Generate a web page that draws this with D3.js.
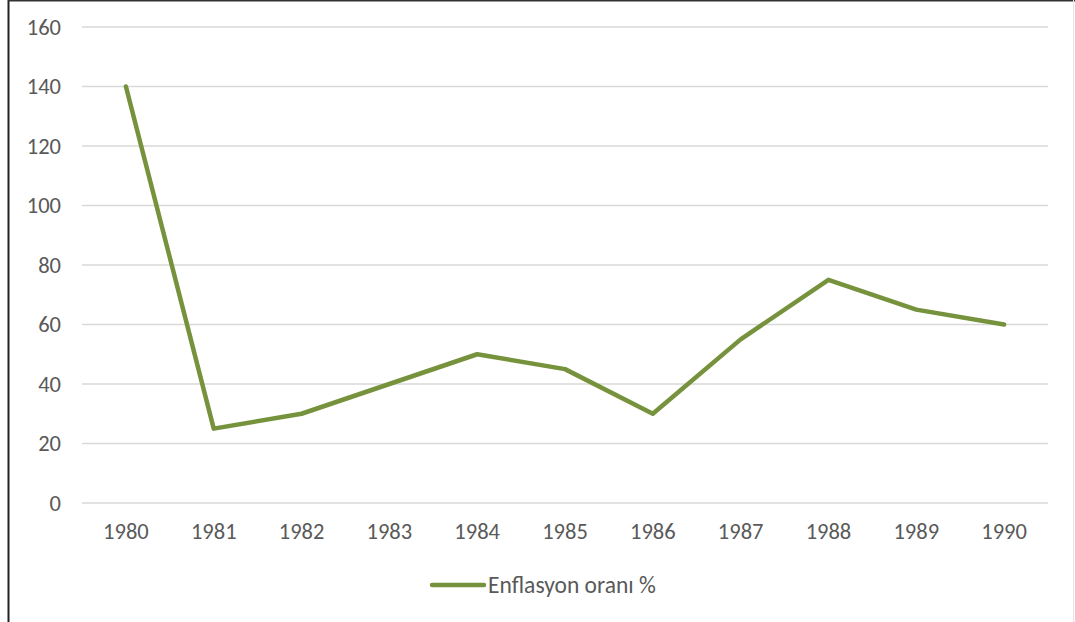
<!DOCTYPE html>
<html>
<head>
<meta charset="utf-8">
<script src="https://cdn.jsdelivr.net/npm/d3@7"></script>
<style>
  body { margin: 0; background: #fff; }
  svg { display: block; }
  text { font-family: Carlito, Calibri, "Liberation Sans", sans-serif; fill: #595959; }
</style>
</head>
<body>
<div id="chart"></div>
<script>
// data
var years = ['1980', '1981', '1982', '1983', '1984', '1985', '1986', '1987', '1988', '1989', '1990'];
var inflation = [140, 25, 30, 40, 50, 45, 30, 55, 75, 65, 60];
var yTicks = [0, 20, 40, 60, 80, 100, 120, 140, 160];
var seriesName = 'Enflasyon oranı %';

var W = 1075, H = 622;
var lineColor = '#76923c';
var fontSize = '22.5px';
var fontFam = 'Carlito, Calibri, "Liberation Sans", sans-serif';

var svg = d3.select('#chart').append('svg')
  .attr('width', W)
  .attr('height', H);

// frame
svg.append('line').attr('x1', 8.5).attr('y1', 0).attr('x2', 8.5).attr('y2', H)
  .attr('stroke', '#222').attr('stroke-width', 2);
svg.append('line').attr('x1', 8).attr('y1', 0.5).attr('x2', W).attr('y2', 0.5)
  .attr('stroke', '#333').attr('stroke-width', 2);
svg.append('line').attr('x1', 1073.5).attr('y1', 0).attr('x2', 1073.5).attr('y2', H)
  .attr('stroke', '#e6e6e6').attr('stroke-width', 1);

var x = d3.scaleBand().domain(years).range([82, 1048]);
var y = d3.scaleLinear().domain([0, 160]).range([503, 27]);

// grid
svg.append('g').selectAll('line').data(yTicks).enter().append('line')
  .attr('x1', 82).attr('x2', 1048)
  .attr('y1', function (d) { return y(d); })
  .attr('y2', function (d) { return y(d); })
  .attr('stroke', '#d9d9d9')
  .attr('stroke-width', 1.5);

// y axis labels
var yAxis = d3.axisLeft(y).tickValues(yTicks).tickSize(0).tickPadding(0);
var gy = svg.append('g').attr('transform', 'translate(61,0)').call(yAxis);
gy.select('.domain').remove();
gy.selectAll('text').style('font-size', fontSize).attr('fill', '#595959')
  .style('font-family', fontFam);

// x axis labels
var xAxis = d3.axisBottom(x).tickSize(0).tickPadding(0);
var gx = svg.append('g').attr('transform', 'translate(0,523)').call(xAxis);
gx.select('.domain').remove();
gx.selectAll('text').style('font-size', fontSize).attr('fill', '#595959')
  .style('font-family', fontFam);

// line
var line = d3.line()
  .x(function (d, i) { return x(years[i]) + x.bandwidth() / 2; })
  .y(function (d) { return y(d); });

svg.append('path').datum(inflation)
  .attr('d', line)
  .attr('fill', 'none')
  .attr('stroke', lineColor)
  .attr('stroke-width', 4.5)
  .attr('stroke-linejoin', 'round')
  .attr('stroke-linecap', 'round');

// legend
var lg = svg.append('g').attr('transform', 'translate(432,585)');
lg.append('line').attr('x1', 0).attr('x2', 52).attr('y1', 0).attr('y2', 0)
  .attr('stroke', lineColor).attr('stroke-width', 4.5).attr('stroke-linecap', 'round');
lg.append('text').attr('x', 56).attr('y', 0).attr('dy', '0.35em')
  .style('font-size', '23.5px')
  .text(seriesName);
</script>
</body>
</html>
